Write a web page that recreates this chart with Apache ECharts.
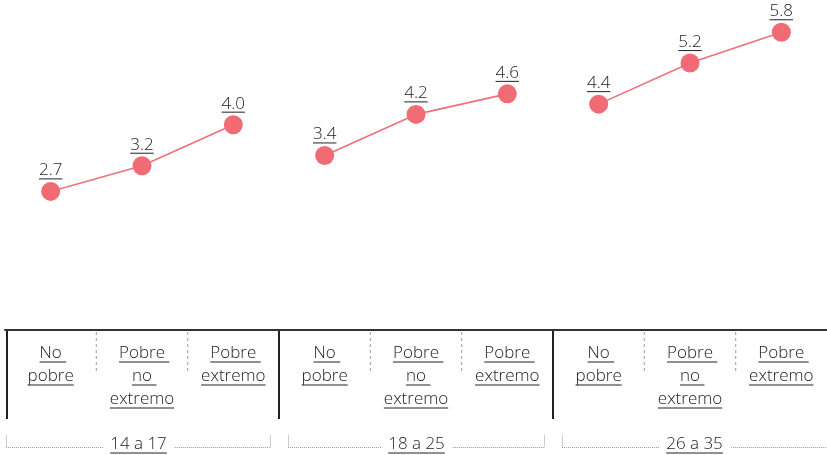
<!DOCTYPE html>
<html>
<head>
<meta charset="utf-8">
<script src="https://cdn.jsdelivr.net/npm/echarts@6/dist/echarts.min.js"></script>
<style>
  html, body { margin: 0; padding: 0; background: #fff; }
  #chart { width: 827px; height: 455px; }
</style>
</head>
<body>
<div id="chart"></div>
<script>
// Poverty status categories, repeated for each age group
const categories = ['No pobre', 'Pobre no extremo', 'Pobre extremo',
                    'No pobre', 'Pobre no extremo', 'Pobre extremo',
                    'No pobre', 'Pobre no extremo', 'Pobre extremo'];
// Wrapped tick label lines (trailing spaces are underlined too)
const tickLabelLines = {
  'No pobre': ['No ', 'pobre'],
  'Pobre no extremo': ['Pobre ', 'no ', 'extremo'],
  'Pobre extremo': ['Pobre ', 'extremo']
};
const groups = ['14 a 17', '18 a 25', '26 a 35'];
const groupSize = 3;
const values = [2.7, 3.2, 4.0, 3.4, 4.2, 4.6, 4.4, 5.2, 5.8];

const FONT_FAMILY = '"Open Sans", "Noto Sans", sans-serif';
const FONT_SIZE = 17;
const FONT_WEIGHT = 350;
const TEXT = '#222222';
const LINE = '#f07078';
const DOT = '#f06b73';

const chart = echarts.init(document.getElementById('chart'), null, { renderer: 'canvas' });

// unique axis keys so repeated category names stay separate
const axisKeys = categories.map((c, i) => groups[Math.floor(i / groupSize)] + ' | ' + c);

const series = groups.map((g, gi) => ({
  type: 'line',
  name: g,
  data: values.map((v, i) => Math.floor(i / groupSize) === gi ? v : '-'),
  symbol: 'circle',
  symbolSize: 19,
  lineStyle: { color: LINE, width: 1.6 },
  itemStyle: { color: DOT },
  label: {
    show: true,
    position: 'top',
    distance: 3,
    color: TEXT,
    fontSize: FONT_SIZE,
    fontWeight: FONT_WEIGHT,
    fontFamily: FONT_FAMILY,
    formatter: p => Number(p.value).toFixed(1)
  },
  emphasis: { disabled: true }
}));

chart.setOption({
  animation: false,
  grid: { left: 5, right: -2, top: 22, bottom: 125 },
  xAxis: {
    type: 'category',
    data: axisKeys,
    boundaryGap: true,
    axisLine: { show: true, lineStyle: { color: '#333', width: 2 } },
    axisTick: { show: false },
    axisLabel: { show: false },
    splitLine: { show: false }
  },
  yAxis: {
    type: 'value',
    min: 0,
    max: 6,
    show: false,
    splitLine: { show: false }
  },
  series: series
});

// text measuring for underlines
const font = FONT_WEIGHT + ' ' + FONT_SIZE + 'px ' + FONT_FAMILY;
const measureCtx = document.createElement('canvas').getContext('2d');
measureCtx.font = font;
const textWidth = t => measureCtx.measureText(t).width;

function buildDecorations() {
  const els = [];
  const xAt = i => chart.convertToPixel({ xAxisIndex: 0 }, i);
  const y0 = chart.convertToPixel({ yAxisIndex: 0 }, 0);
  const step = xAt(1) - xAt(0);
  const boundary = k => xAt(0) + (k - 0.5) * step;   // left edge of category k
  const W = chart.getWidth();

  const hline = (x1, x2, y, color, width, dash) => els.push({
    type: 'line', silent: true,
    shape: { x1, y1: y, x2, y2: y },
    style: { stroke: color, lineWidth: width, lineDash: dash || null }
  });
  const vline = (x, y1, y2, color, width, dash) => els.push({
    type: 'line', silent: true,
    shape: { x1: x, y1, x2: x, y2 },
    style: { stroke: color, lineWidth: width, lineDash: dash || null }
  });
  const text = (t, x, y) => els.push({
    type: 'text', silent: true,
    style: { text: t, x, y, align: 'left', verticalAlign: 'middle', fill: TEXT, font }
  });

  // underline the value labels
  values.forEach((v, i) => {
    const gi = Math.floor(i / groupSize);
    const [px, py] = chart.convertToPixel({ seriesIndex: gi }, [i, v]);
    const w = textWidth(v.toFixed(1));
    hline(px - w / 2, px + w / 2, py - 12.5, TEXT, 1);
  });

  // category tick labels, underlined line by line
  categories.forEach((c, i) => {
    const cx = xAt(i);
    tickLabelLines[c].forEach((ln, k) => {
      const ty = y0 + 23 + k * 23;
      const left = cx - textWidth(ln.trimEnd()) / 2;
      text(ln, left, ty);
      hline(left, left + textWidth(ln), ty + 9, TEXT, 1);
    });
  });

  // separators: solid between age groups, dashed within a group
  for (let k = 0; k < categories.length; k++) {
    const bx = boundary(k);
    if (k % groupSize === 0) {
      vline(Math.max(bx, 7), y0, y0 + 89, '#222', 2);
    } else {
      vline(bx, y0 + 2, y0 + 43, '#aaaaaa', 1.2, [3, 3]);
    }
  }

  // age group labels with dotted brackets
  groups.forEach((g, gi) => {
    const last = gi === groups.length - 1;
    const left = gi === 0 ? 6 : boundary(gi * groupSize) + 9;
    const right = last ? W : boundary((gi + 1) * groupSize) - 8;
    const cx = (left + right) / 2;
    const ty = y0 + 114;
    const w = textWidth(g);
    text(g, cx - w / 2, ty);
    hline(cx - w / 2, cx + w / 2, ty + 9, TEXT, 1);
    const by = ty + 3.5;
    hline(left, cx - w / 2 - 7, by, '#999', 1, [1, 1]);
    hline(cx + w / 2 + 8, right, by, '#999', 1, [1, 1]);
    vline(left + 0.5, by - 12, by, '#999', 1, [1, 1]);
    if (!last) vline(right - 0.5, by - 12, by, '#999', 1, [1, 1]);
  });

  chart.setOption({ graphic: { elements: els } });
}

buildDecorations();
</script>
</body>
</html>
